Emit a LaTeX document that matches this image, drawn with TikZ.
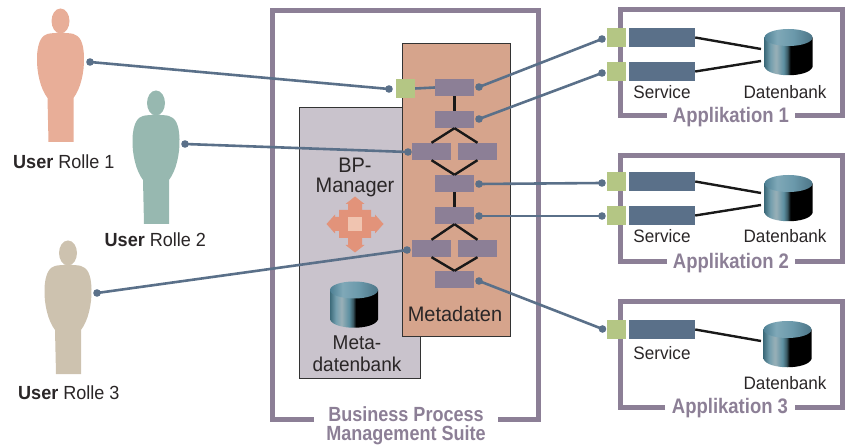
\documentclass[tikz,border=0pt]{standalone}
\usepackage{fontspec}
\setmainfont{Liberation Sans}[FakeStretch=0.95]
\newfontfamily\ttlfont{Liberation Sans}[FakeStretch=0.88]
\definecolor{frameC}{HTML}{8C7F96}
\definecolor{lineC}{HTML}{5A7089}
\definecolor{boxC}{HTML}{8C7F96}
\definecolor{svcC}{HTML}{5A7089}
\definecolor{greenC}{HTML}{B4C684}
\definecolor{metaC}{HTML}{D6A48C}
\definecolor{bpC}{HTML}{C9C3CC}
\definecolor{arrC}{HTML}{E2937A}
\definecolor{arrL}{HTML}{F0C4B0}
\definecolor{txtC}{HTML}{2A2627}
\definecolor{personA}{HTML}{E8AE98}
\definecolor{personB}{HTML}{97B8B0}
\definecolor{personC}{HTML}{CDC2AF}
\pgfdeclarehorizontalshading{dbbody}{100bp}{rgb(0bp)=(0.24,0.42,0.48);rgb(25bp)=(0.24,0.42,0.48);rgb(31bp)=(0.45,0.62,0.68);rgb(37bp)=(0.60,0.69,0.72);rgb(45bp)=(0.36,0.56,0.63);rgb(49bp)=(0.22,0.34,0.38);rgb(52bp)=(0,0,0);rgb(100bp)=(0,0,0)}
\pgfdeclarehorizontalshading{dbtop}{100bp}{rgb(0bp)=(0.30,0.50,0.58);rgb(25bp)=(0.30,0.50,0.58);rgb(38bp)=(0.50,0.66,0.72);rgb(55bp)=(0.42,0.60,0.67);rgb(75bp)=(0.30,0.46,0.53);rgb(100bp)=(0.30,0.46,0.53)}
\tikzset{
  x=1pt,y=-1pt,
  frameline/.style={draw=frameC,line width=5pt,line cap=butt,line join=miter},
  conn/.style={draw=lineC,line width=2.6pt},
  link/.style={draw=black!90,line width=2.4pt},
  dotn/.style={circle,fill=lineC,inner sep=0pt,minimum size=7.6pt},
  mbox/.style={fill=boxC,inner sep=0pt,minimum width=39pt,minimum height=17pt},
  svc/.style={fill=svcC,inner sep=0pt,minimum width=66pt,minimum height=19pt},
  gsq/.style={fill=greenC,inner sep=0pt,minimum size=19pt},
  lbl/.style={text=txtC,font=\fontsize{18}{18}\selectfont,inner sep=0pt},
  lblu/.style={text=txtC,font=\fontsize{19}{19}\selectfont,inner sep=0pt,anchor=west},
  lblb/.style={text=txtC,font=\fontsize{21}{21}\selectfont,inner sep=0pt},
  ttl/.style={text=frameC,font=\ttlfont\fontsize{21}{20}\selectfont\bfseries,inner sep=0pt},
  personshape/.pic={
    \fill[pic actions] (0,-121) ellipse[x radius=9,y radius=12.5];
    \fill[pic actions] (-13,-108) .. controls (-18,-107) and (-23,-101) .. (-23.5,-85)
      .. controls (-24,-70) and (-20,-53) .. (-13,-44)
      -- (-12,0) -- (13,0) -- (13,-44)
      .. controls (20,-53) and (24,-70) .. (23.5,-85)
      .. controls (23,-101) and (19,-106) .. (13,-108)
      .. controls (8,-109.5) and (-8,-109.5) .. (-13,-108) -- cycle;
  },
  dbcyl/.pic={
    \shade[shading=dbbody] (-24,-14.5) -- (-24,15) .. controls (-20,26) and (20,26) .. (24,15) -- (24,-14.5) -- cycle;
    \shade[shading=dbtop] (0,-14.5) ellipse[x radius=24,y radius=8.5];
  }
}
\begin{document}
\begin{tikzpicture}
\useasboundingbox (0,0) rectangle (846,446);
% persons
\pic[fill=personA] at (60.5,142) {personshape};
\pic[fill=personB] at (156,224) {personshape};
\pic[fill=personC] at (68,374) {personshape};
% frames
\draw[frameline] (314,419) -- (272.5,419) -- (272.5,10.5) -- (538,10.5) -- (538,419) -- (498,419);
\draw[frameline] (667,115.5) -- (620,115.5) -- (620,10) -- (842.5,10) -- (842.5,115.5) -- (795,115.5);
\draw[frameline] (667,261.5) -- (620,261.5) -- (620,155.5) -- (842.5,155.5) -- (842.5,261.5) -- (795,261.5);
\draw[frameline] (665,407) -- (620,407) -- (620,301.5) -- (842.5,301.5) -- (842.5,407) -- (795,407);
% panels
\filldraw[fill=bpC,draw=black!80,line width=0.9pt] (299,107) rectangle (420,378);
\filldraw[fill=metaC,draw=black!80,line width=0.9pt] (402,43) rectangle (510,336);
% boxes
\node[mbox] (m1) at (454.5,87.5) {};
\node[mbox] (m2) at (454.5,119.5) {};
\node[mbox] (m3l) at (431.5,151.5) {};
\node[mbox] (m3r) at (477.5,151.5) {};
\node[mbox] (m4) at (454.5,183.5) {};
\node[mbox] (m5) at (454.5,215.5) {};
\node[mbox] (m6l) at (431.5,248.5) {};
\node[mbox] (m6r) at (477.5,248.5) {};
\node[mbox] (m7) at (454.5,279.5) {};
\draw[link] (m1) -- (m2);
\draw[link] (m2.south) -- (m3l.north);
\draw[link] (m2.south) -- (m3r.north);
\draw[link] (m3l.south) -- (m4.north);
\draw[link] (m3r.south) -- (m4.north);
\draw[link] (m4) -- (m5);
\draw[link] (m5.south) -- (m6l.north);
\draw[link] (m5.south) -- (m6r.north);
\draw[link] (m6l.south) -- (m7.north);
\draw[link] (m6r.south) -- (m7.north);
% arrow cross
\fill[arrC] (339,210) -- (348,210) -- (348,204) -- (345.5,204) -- (355,196.5) -- (364.5,204) -- (362,204) -- (362,210) -- (371,210)
 -- (371,217) -- (375,217) -- (375,214.5) -- (383.5,224) -- (375,233.5) -- (375,231) -- (371,231) -- (371,238) -- (362,238)
 -- (362,245) -- (364.5,245) -- (355,252.5) -- (345.5,245) -- (348,245) -- (348,238) -- (339,238) -- (339,231) -- (335,231)
 -- (335,233.5) -- (326.5,224) -- (335,214.5) -- (335,217) -- (339,217) -- cycle;
\fill[arrL] (348,217) rectangle (362,231);
% databases
\pic at (354,304.5) {dbcyl};
\pic at (788.5,52) {dbcyl};
\pic at (788.5,198) {dbcyl};
\pic at (787.5,344) {dbcyl};
% services
\node[svc] (s1a) at (662,37.5) {};
\node[svc] (s1b) at (662,71.5) {};
\node[svc] (s2a) at (662,181.5) {};
\node[svc] (s2b) at (662,215.5) {};
\node[svc] (s3) at (662,329.5) {};
\coordinate (db1a) at (761,49);
\coordinate (db1b) at (761,61);
\coordinate (db2a) at (761,193);
\coordinate (db2b) at (761,205);
\coordinate (db3a) at (761,341);
\draw[link] (s1a.east) -- (db1a);
\draw[link] (s1b.east) -- (db1b);
\draw[link] (s2a.east) -- (db2a);
\draw[link] (s2b.east) -- (db2b);
\draw[link] (s3.east) -- (db3a);
% connector dots
\node[dotn] (u1) at (90,62) {};
\node[dotn] (u2) at (185,144) {};
\node[dotn] (u3) at (97,293) {};
\node[dotn] (g0d) at (389,89) {};
\node[dotn] (m3d) at (408,152) {};
\node[dotn] (m6d) at (407,250) {};
\node[dotn] (m1d) at (479,87) {};
\node[dotn] (m2d) at (479,119) {};
\node[dotn] (m4d) at (479,184) {};
\node[dotn] (m5d) at (479,216) {};
\node[dotn] (m7d) at (479,281) {};
\node[dotn] (a1d) at (602,39) {};
\node[dotn] (a2d) at (602,73) {};
\node[dotn] (a3d) at (602,183) {};
\node[dotn] (a4d) at (602,216) {};
\node[dotn] (a5d) at (602.5,329) {};
\draw[conn] (u1.center) -- (g0d.center);
\draw[conn] (u2.center) -- (m3d.center);
\draw[conn] (u3.center) -- (m6d.center);
\draw[conn] (m1d.center) -- (a1d.center);
\draw[conn] (m2d.center) -- (a2d.center);
\draw[conn] (m4d.center) -- (a3d.center);
\draw[conn] (m5d.center) -- (a4d.center);
\draw[conn] (m7d.center) -- (a5d.center);
% green squares
\node[gsq] (g0) at (405.5,88.5) {};
\draw[conn] (g0.east) -- (m1.west);
\node[gsq] (g1) at (616.5,37.5) {};
\node[gsq] (g2) at (616.5,71.5) {};
\node[gsq] (g3) at (616.5,181.5) {};
\node[gsq] (g4) at (616.5,215.5) {};
\node[gsq] (g5) at (616.5,329.5) {};
% labels
\node[lblu] (t1) at (13,162) {\textbf{User} Rolle 1};
\node[lblu] (t2) at (104.5,240) {\textbf{User} Rolle 2};
\node[lblu] (t3) at (18,393) {\textbf{User} Rolle 3};
\node[lblb] (t4) at (355,165) {BP-};
\node[lblb] (t5) at (355,187) {Manager};
\node[lblb,font=\fontsize{20}{20}\selectfont] (t6) at (357,343) {Meta-};
\node[lblb,font=\fontsize{20}{20}\selectfont] (t7) at (357,364) {datenbank};
\node[lblb] (t8) at (455,314) {Metadaten};
\node[lbl] (s1t) at (662,92) {Service};
\node[lbl] (d1t) at (785,92) {Datenbank};
\node[lbl] (s2t) at (662,236) {Service};
\node[lbl] (d2t) at (785,236) {Datenbank};
\node[lbl] (s3t) at (662,353) {Service};
\node[lbl] (d3t) at (785,383.5) {Datenbank};
\node[ttl] (a1) at (731,117) {Applikation 1};
\node[ttl] (a2) at (731,263) {Applikation 2};
\node[ttl] (a3) at (730,408.5) {Applikation 3};
\node[ttl,align=center,font=\ttlfont\fontsize{20.5}{19}\selectfont\bfseries] (b1) at (406,426) {Business Process\\Management Suite};
\end{tikzpicture}
\end{document}
